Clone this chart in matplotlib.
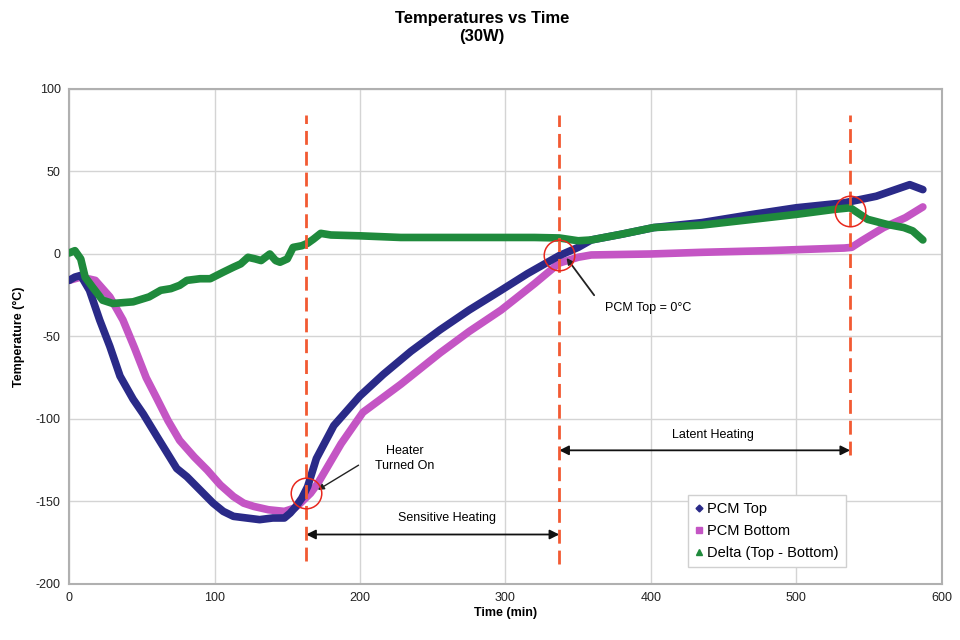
import matplotlib.pyplot as plt
from matplotlib.lines import Line2D

plt.rcParams['font.family'] = ['Liberation Sans', 'DejaVu Sans']
plt.rcParams['axes.unicode_minus'] = False

# PCM Top temperature
top_t = [0, 4, 8, 14, 21, 28, 35, 44, 51, 60, 67, 74, 81, 90, 99, 106, 113, 122,
         131, 140, 148, 152, 156, 160, 164, 170, 182, 200, 216, 235, 255,
         275, 297, 315, 337, 350, 359, 380, 402, 435, 470, 500, 533, 555, 578, 587]
top_v = [-16, -14, -13, -22, -40, -56, -74, -88, -97, -110, -120, -130, -135, -143,
         -151, -156, -159, -160, -161, -160, -160, -157, -153, -148, -141, -124,
         -104, -86, -73, -59, -46, -34, -22, -12, -1, 4, 8.5, 12, 16, 19, 24, 28,
         31, 35, 42, 39]

# PCM Bottom temperature
bot_t = [0, 8, 18, 28, 37, 45, 53, 60, 68, 76, 86, 95, 104, 113, 120, 127, 137,
         148, 155, 159, 166, 171, 179, 187, 202, 228, 255, 275, 297, 320, 337, 350,
         359, 400, 435, 480, 533, 538, 545, 560, 575, 587]
bot_v = [-16, -14, -16, -26, -40, -57, -75, -87, -101, -113, -123, -131, -140, -147,
         -151, -153, -155, -156, -154, -151, -145, -139, -127, -115, -96, -79, -60,
         -47, -34, -18, -5.5, -2, -0.6, 0, 1, 2, 3.6, 4, 8, 16, 22, 28.5]

# Delta (Top - Bottom)
dlt_t = [0, 4, 8, 11, 16, 23, 30, 44, 55, 63, 70, 76, 81, 90, 97, 106, 113, 118,
         123, 128, 132, 135, 138, 142, 145, 150, 154, 160, 164, 168, 173, 180, 200,
         228, 260, 297, 320, 337, 350, 359, 380, 402, 435, 470, 500, 526, 537, 549,
         562, 574, 580, 587]
dlt_v = [0.6, 2, -3, -14, -20, -28, -30, -29, -26, -22, -21, -19, -16, -15, -15,
         -11, -8, -6, -2, -3, -4, -2, 0, -4, -5, -3, 4, 5, 6.5, 9, 12.5, 11.5, 11,
         10, 10, 10, 10, 9.7, 8, 8.5, 12, 16, 17.5, 21, 24, 27, 28, 21, 18, 16, 14,
         8.5]

event_t = [163, 337, 537]
event_top = [84, 84, 84]
event_bottom = [-186, -188, -122]
circle_v = [-145, -0.6, 26]

c_top = '#2A2A88'
c_bot = '#C455C4'
c_dlt = '#1F8A3C'
c_red = '#F25A32'

fig = plt.figure(figsize=(9.6, 6.4), dpi=100)
ax = fig.add_axes([0.072, 0.0875, 0.909, 0.7735])

ax.plot(top_t, top_v, color=c_top, lw=5.5, solid_capstyle='round', zorder=3)
ax.plot(bot_t, bot_v, color=c_bot, lw=5.5, solid_capstyle='round', zorder=2)
ax.plot(dlt_t, dlt_v, color=c_dlt, lw=5.5, solid_capstyle='round', zorder=4)

ax.vlines(event_t, event_bottom, event_top, colors=c_red, linestyles=(0, (5, 2.5)),
          lw=2, zorder=5)
ax.plot(event_t, circle_v, 'o', ms=22, mfc='none', mec='#E8281E', mew=1.1, zorder=6)

ax.set_xlim(0, 600)
ax.set_ylim(-200, 100)
ax.set_xticks(range(0, 601, 100))
ax.set_yticks(range(-200, 101, 50))
ax.grid(True, color='#D4D4D4', lw=1)
ax.set_axisbelow(True)
for s in ax.spines.values():
    s.set_color('#B0B0B0')
    s.set_linewidth(1.5)
ax.tick_params(length=0, labelsize=9, pad=6, colors='#222222')

ax.set_xlabel('Time (min)', fontsize=9, fontweight='bold', labelpad=2)
ax.set_ylabel('Temperature (°C)', fontsize=9, fontweight='bold', labelpad=8)
fig.text(0.502, 0.957, 'Temperatures vs Time\n(30W)', ha='center', va='center',
         fontsize=12, fontweight='bold', linespacing=1.3)

# annotations
ax.annotate('', xy=(163, -170), xytext=(337, -170),
            arrowprops=dict(arrowstyle='<|-|>', color='#111111', lw=1.3,
                            shrinkA=0, shrinkB=0, mutation_scale=14))
ax.annotate('', xy=(337, -119), xytext=(537, -119),
            arrowprops=dict(arrowstyle='<|-|>', color='#111111', lw=1.3,
                            shrinkA=0, shrinkB=0, mutation_scale=14))
ax.text(260, -160, 'Sensitive Heating', ha='center', va='center', fontsize=9)
ax.text(443, -110, 'Latent Heating', ha='center', va='center', fontsize=9)
ax.text(231, -124, 'Heater\nTurned On', ha='center', va='center', fontsize=9,
        linespacing=1.4)
ax.annotate('', xy=(171, -143), xytext=(199, -128),
            arrowprops=dict(arrowstyle='-|>', color='#222222', lw=1,
                            shrinkA=0, shrinkB=0, mutation_scale=9))
ax.text(398, -33, 'PCM Top = 0°C', ha='center', va='center', fontsize=9)
ax.annotate('', xy=(342, -2.4), xytext=(361, -25),
            arrowprops=dict(arrowstyle='-|>', color='#222222', lw=1.3,
                            shrinkA=0, shrinkB=0, mutation_scale=9))

handles = [Line2D([], [], ls='none', marker='D', ms=3.5, color=c_top),
           Line2D([], [], ls='none', marker='s', ms=4.5, color=c_bot),
           Line2D([], [], ls='none', marker='^', ms=4.5, color=c_dlt)]
ax.legend(handles, ['PCM Top', 'PCM Bottom', 'Delta (Top - Bottom)'],
          loc='lower left', bbox_to_anchor=(0.704, 0.025), fontsize=10.5,
          handlelength=0.5, handletextpad=0.3, fancybox=False, framealpha=1,
          edgecolor='#D0D0D0', borderpad=0.5, labelspacing=0.55,
          borderaxespad=0.3)

fig.savefig('out.png', dpi=100)
